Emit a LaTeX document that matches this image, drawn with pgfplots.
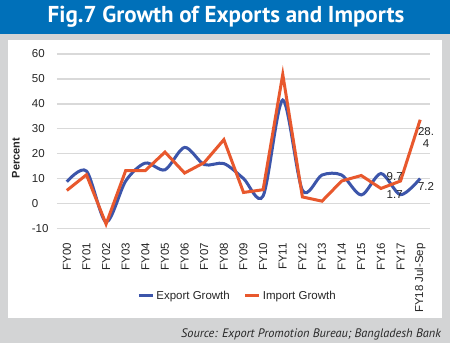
\documentclass[border=0pt]{standalone}
\usepackage{pgfplots}
\pgfplotsset{compat=1.18}
\usepackage{fontspec}
\setmainfont{Liberation Sans}
\newfontfamily\titlefont{PT Sans}
\definecolor{titleblue}{RGB}{0,112,185}
\definecolor{bggray}{RGB}{211,212,213}
\definecolor{blueline}{RGB}{60,85,170}
\definecolor{orangeline}{RGB}{232,88,45}
\definecolor{gridgray}{RGB}{217,217,217}
\begin{document}
\begin{tikzpicture}
\fill[bggray] (0pt,0pt) rectangle (450pt,343pt);
\fill[titleblue] (0pt,309pt) rectangle (450pt,343pt);
\fill[white] (8pt,25pt) rectangle (442pt,303pt);
\node[text=white,font=\titlefont\bfseries\fontsize{23}{26}\selectfont] at (226pt,326pt) {Fig.7 Growth of Exports and Imports};
\node[anchor=base east,inner sep=0pt,font=\titlefont\itshape\fontsize{12.3}{14}\selectfont,text=black!85] at (441pt,6pt) {Source: Export Promotion Bureau; Bangladesh Bank};
\node[rotate=90,font=\bfseries\fontsize{11}{12}\selectfont,text=black!85] at (16pt,185pt) {Percent};
\begin{axis}[
  at={(57pt,114.7pt)}, anchor=south west,
  scale only axis, width=373pt, height=174.3pt,
  xmin=-0.5, xmax=18.5, ymin=-10, ymax=60,
  ytick={-10,0,10,20,30,40,50,60},
  xtick={0,...,18},
  xticklabels={FY00,FY01,FY02,FY03,FY04,FY05,FY06,FY07,FY08,FY09,FY10,FY11,FY12,FY13,FY14,FY15,FY16,FY17,FY18 Jul-Sep},
  axis lines*=left, axis line style={draw=none},
  major tick length=0pt,
  ymajorgrids, major grid style={gridgray,line width=1.5pt},
  /pgf/number format/assume math mode=true,
  tick label style={font=\fontsize{11.5}{13}\selectfont,text=black!85},
  xticklabel style={rotate=90,anchor=east,inner sep=0pt},
  xticklabel shift=14.7pt,
  yticklabel style={anchor=west,inner sep=0pt,xshift=-25.3pt},
  clip=false,
  legend columns=2,
  legend style={draw=none,fill=none,at={(0.484,-0.387)},anchor=center,font=\fontsize{11.5}{13}\selectfont,text=black!85,/tikz/every even column/.append style={column sep=12pt},inner sep=0pt},
  legend image code/.code={\draw[#1,line width=3pt] (0pt,0pt) -- (14pt,0pt);},
]
\addplot[blueline,line width=3pt,smooth] coordinates {
(0,8.7)(1,13.0)(2,-7.4)(3,9.0)(4,16.2)(5,13.5)(6,22.5)(7,15.6)(8,16.0)(9,10.0)(10,3.0)(11,41.5)(12,5.3)(13,11.4)(14,11.4)(15,3.4)(16,12.0)(17,3.5)(18,10.0)};
\addlegendentry{Export Growth}
\addplot[orangeline,line width=3pt] coordinates {
(0,5.2)(1,11.5)(2,-8.3)(3,13.2)(4,13.2)(5,20.6)(6,12.2)(7,16.4)(8,25.6)(9,4.4)(10,5.5)(11,51.8)(12,2.6)(13,0.9)(14,9.0)(15,11.2)(16,6.0)(17,9.0)(18,33.6)};
\addlegendentry{Import Growth}
\node[font=\fontsize{11.5}{13}\selectfont,text=black!85] at (axis cs:16.7,10.6) {9.7};
\node[font=\fontsize{11.5}{13}\selectfont,text=black!85] at (axis cs:16.7,3.4) {1.7};
\node[font=\fontsize{11.5}{13}\selectfont,text=black!85] at (axis cs:18.3,6.9) {7.2};
\node[font=\fontsize{11.5}{12.6}\selectfont,text=black!85,align=center] at (axis cs:18.3,26.5) {28.\\4};
\end{axis}
\end{tikzpicture}
\end{document}
